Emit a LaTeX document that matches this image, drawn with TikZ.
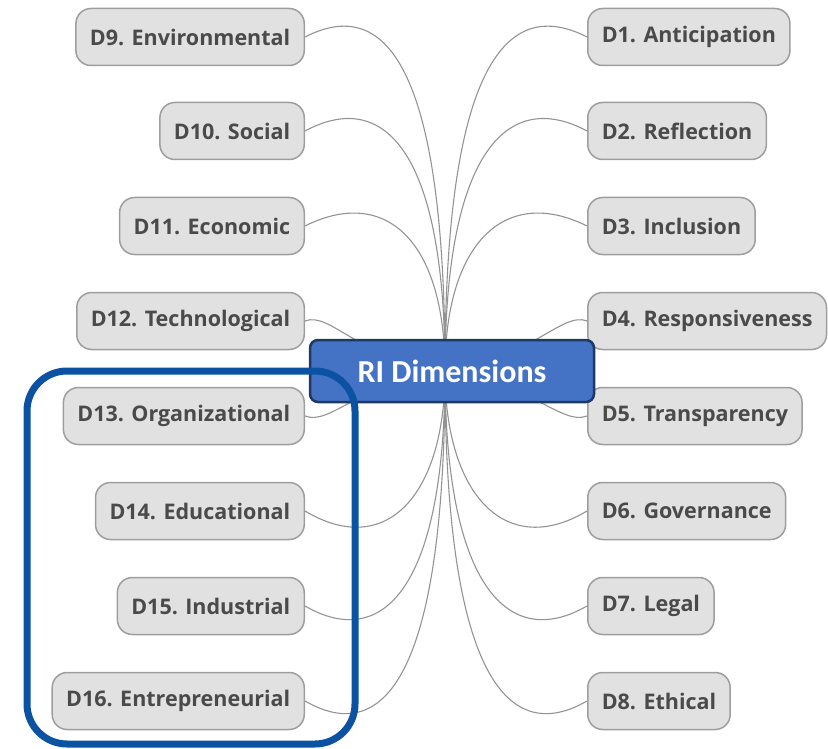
\documentclass[tikz,border=0pt]{standalone}
\usepackage{fontspec}
\setmainfont{Open Sans}
\newfontfamily\carlito{Carlito}
\usetikzlibrary{calc}

\definecolor{leaffill}{HTML}{E1E1E1}
\definecolor{leafline}{HTML}{9E9E9E}
\definecolor{leaftext}{HTML}{4A4A4A}
\definecolor{corefill}{HTML}{4472C4}
\definecolor{coreline}{HTML}{1F3864}
\definecolor{framecol}{HTML}{0B53A2}

\tikzset{
  dim/.style={draw=leafline, fill=leaffill, line width=1.5pt, rounded corners=15pt,
    minimum height=57pt, inner xsep=14pt, text=leaftext,
    font=\fontsize{21.5}{25}\selectfont\bfseries},
  core/.style={draw=coreline, fill=corefill, line width=2.5pt, rounded corners=8pt,
    minimum width=284pt, minimum height=62pt, text=white,
    font=\carlito\fontsize{32}{36}\selectfont\bfseries},
  link/.style={draw=gray!85, line width=1.1pt},
  group/.style={draw=framecol, line width=7pt, rounded corners=40pt}
}

\begin{document}
\begin{tikzpicture}[x=1pt, y=-1pt]
\useasboundingbox (0,0) rectangle (828,749);
\coordinate (hub) at (445,371);

% left column
\node[dim, anchor=east] (d9) at (305,37) {D9. Environmental};
\node[dim, anchor=east] (d10) at (305,131) {D10. Social};
\node[dim, anchor=east] (d11) at (305,226) {D11. Economic};
\node[dim, anchor=east] (d12) at (305,321) {D12. Technological};
\node[dim, anchor=east] (d13) at (305,416) {D13. Organizational};
\node[dim, anchor=east] (d14) at (305,511) {D14. Educational};
\node[dim, anchor=east] (d15) at (305,606) {D15. Industrial};
\node[dim, anchor=east] (d16) at (305,701) {D16. Entrepreneurial};

% right column
\node[dim, anchor=west] (d1) at (587,37) {D1. Anticipation};
\node[dim, anchor=west] (d2) at (587,131) {D2. Reflection};
\node[dim, anchor=west] (d3) at (587,226) {D3. Inclusion};
\node[dim, anchor=west] (d4) at (587,321) {D4. Responsiveness};
\node[dim, anchor=west] (d5) at (587,416) {D5. Transparency};
\node[dim, anchor=west] (d6) at (587,511) {D6. Governance};
\node[dim, anchor=west] (d7) at (587,606) {D7. Legal};
\node[dim, anchor=west] (d8) at (587,701) {D8. Ethical};

% branches
\draw[link] (d9.east) .. controls +(78,-40) and ($(hub|-d9.east)+(0,22)$) .. (hub);
\draw[link] (d10.east) .. controls +(78,-42) and ($(hub|-d10.east)+(0,18)$) .. (hub);
\draw[link] (d11.east) .. controls +(80,-40) and ($(hub|-d11.east)+(0,14)$) .. (hub);
\draw[link] (d12.east) .. controls +(25,-10) and (360,360) .. (hub);
\draw[link] (d13.east) .. controls +(25,10) and (360,382) .. (hub);
\draw[link] (d14.east) .. controls +(80,48) and ($(hub|-d14.east)+(0,-14)$) .. (hub);
\draw[link] (d15.east) .. controls +(78,45) and ($(hub|-d15.east)+(0,-18)$) .. (hub);
\draw[link] (d16.east) .. controls +(78,45) and ($(hub|-d16.east)+(0,-22)$) .. (hub);

\draw[link] (d1.west) .. controls +(-78,-40) and ($(hub|-d1.west)+(0,22)$) .. (hub);
\draw[link] (d2.west) .. controls +(-78,-42) and ($(hub|-d2.west)+(0,18)$) .. (hub);
\draw[link] (d3.west) .. controls +(-80,-40) and ($(hub|-d3.west)+(0,14)$) .. (hub);
\draw[link] (d4.west) .. controls +(-25,-10) and (530,360) .. (hub);
\draw[link] (d5.west) .. controls +(-25,10) and (530,382) .. (hub);
\draw[link] (d6.west) .. controls +(-80,48) and ($(hub|-d6.west)+(0,-14)$) .. (hub);
\draw[link] (d7.west) .. controls +(-78,45) and ($(hub|-d7.west)+(0,-18)$) .. (hub);
\draw[link] (d8.west) .. controls +(-78,45) and ($(hub|-d8.west)+(0,-22)$) .. (hub);

\node[core] (ri) at (452,371) {RI Dimensions};

% highlighted group
\draw[group] (27,371) rectangle (355,744);
\end{tikzpicture}
\end{document}
